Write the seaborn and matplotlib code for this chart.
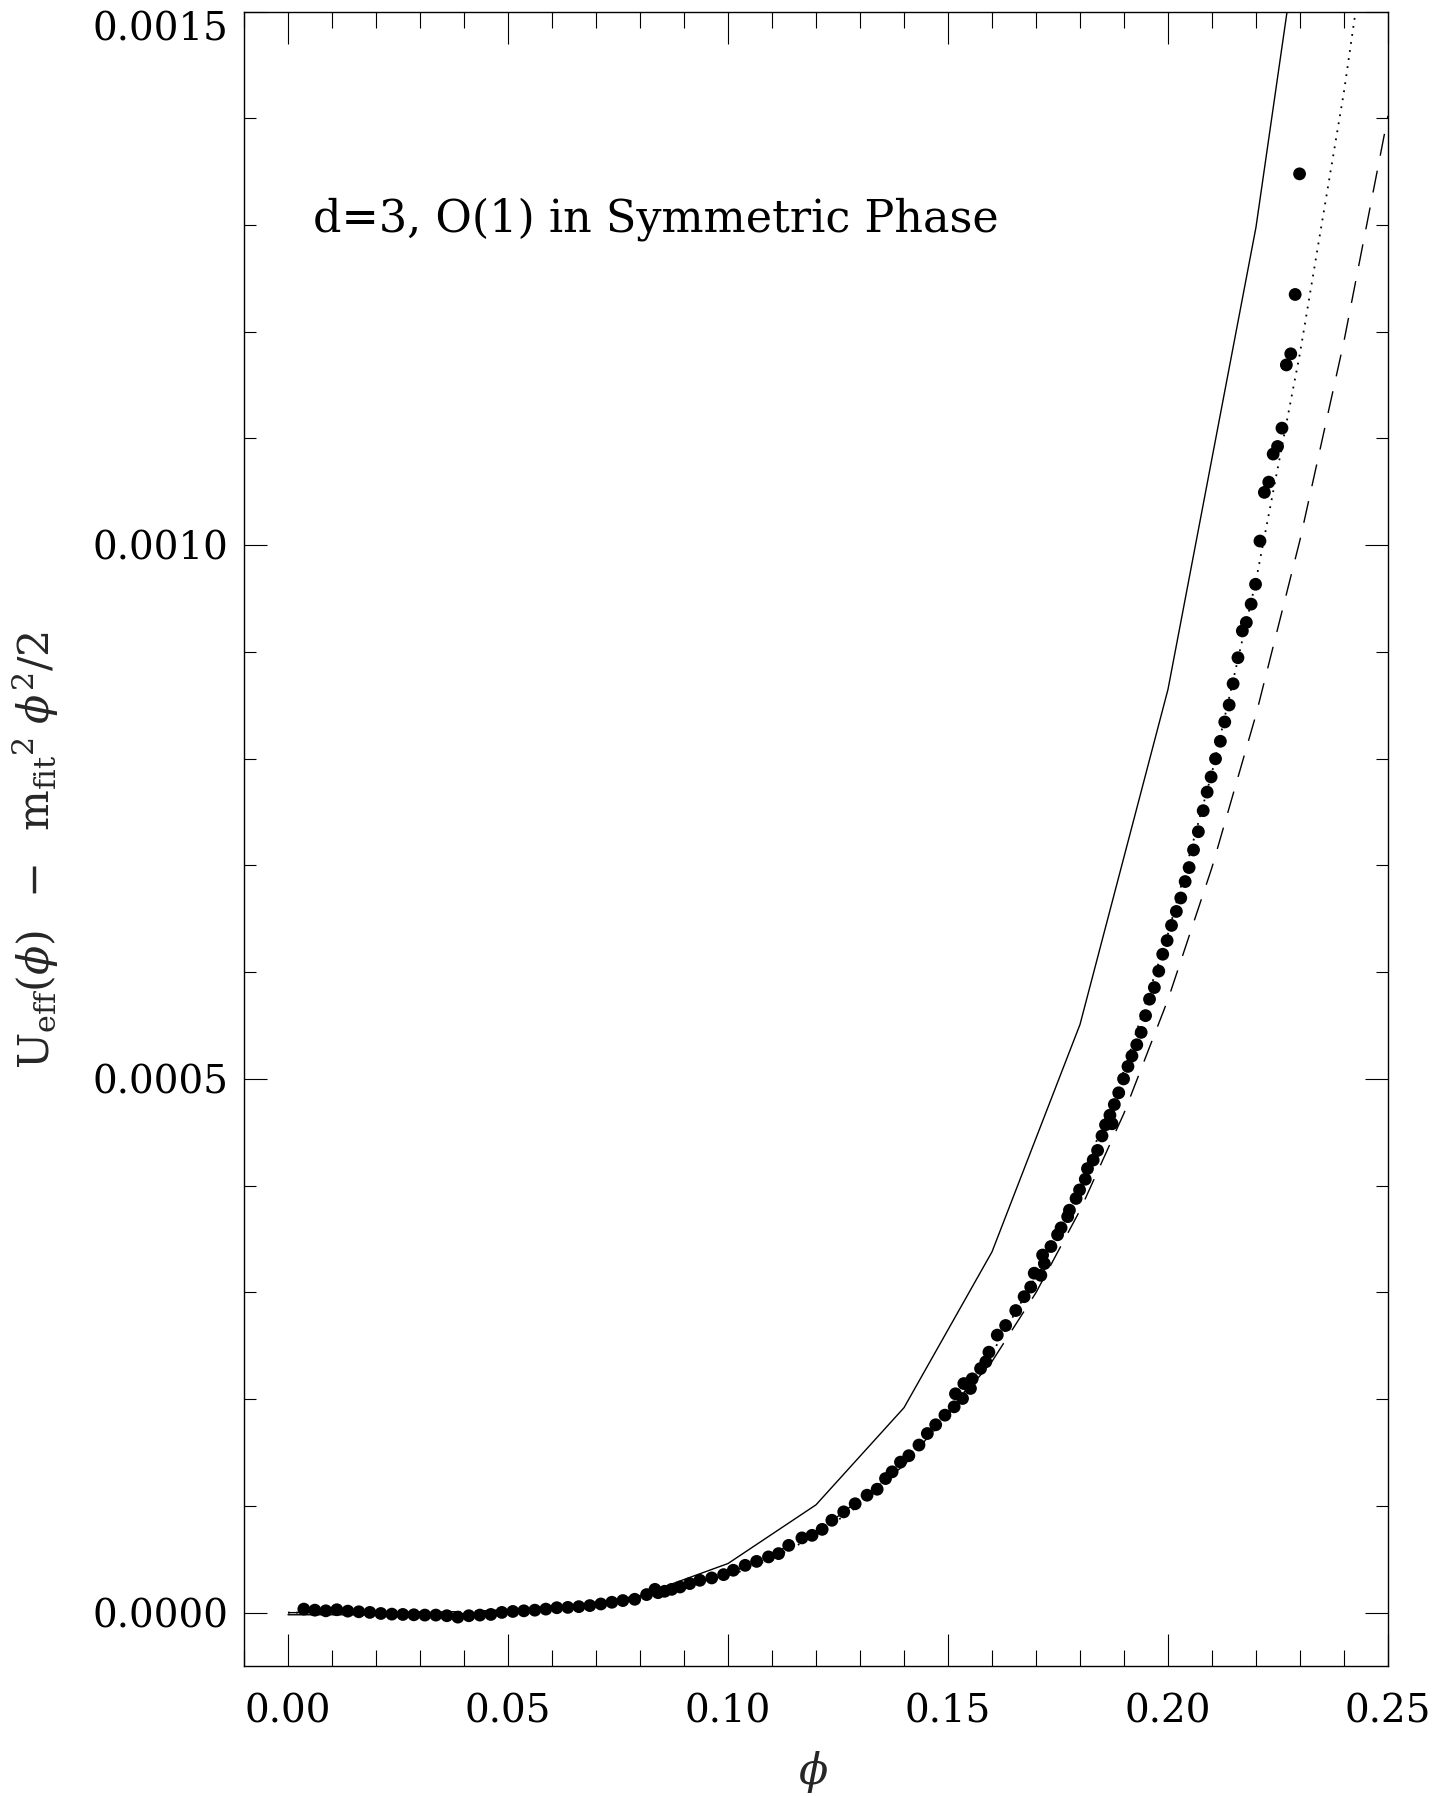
import numpy as np
import pandas as pd
import matplotlib
matplotlib.use("Agg")
import matplotlib.pyplot as plt
import seaborn as sns

# ---------------- data (y values in units of 1e-6) ----------------
dots_x = [0.0036, 0.0061, 0.0086, 0.0111, 0.0136, 0.0161, 0.0186, 0.0211, 0.0236, 0.0261,
          0.0286, 0.0311, 0.0336, 0.0361, 0.0386, 0.0411, 0.0436, 0.0461, 0.0486, 0.0511,
          0.0536, 0.0561, 0.0586, 0.0611, 0.0636, 0.0661, 0.0686, 0.0711, 0.0736, 0.0761,
          0.0788, 0.0815, 0.0834, 0.0841, 0.0856, 0.0872, 0.0891, 0.0913, 0.0936, 0.0963,
          0.0990, 0.1012, 0.1039, 0.1065, 0.1092, 0.1115, 0.1138, 0.1168, 0.1191, 0.1214,
          0.1236, 0.1263, 0.1289, 0.1316, 0.1339, 0.1358, 0.1373, 0.1392, 0.1411, 0.1434,
          0.1453, 0.1472, 0.1493, 0.1514, 0.1517, 0.1533, 0.1536, 0.1551, 0.1555, 0.1574,
          0.1586, 0.1593, 0.1612, 0.1631, 0.1654, 0.1673, 0.1688, 0.1696, 0.1711, 0.1715,
          0.1719, 0.1734, 0.1749, 0.1757, 0.1772, 0.1776, 0.1791, 0.1799, 0.1812, 0.1817,
          0.1830, 0.1840, 0.1850, 0.1858, 0.1868, 0.1873, 0.1878, 0.1888, 0.1899, 0.1909,
          0.1918, 0.1929, 0.1939, 0.1949, 0.1958, 0.1969, 0.1979, 0.1988, 0.1998, 0.2008,
          0.2019, 0.2029, 0.2039, 0.2048, 0.2058, 0.2069, 0.2080, 0.2089, 0.2098, 0.2108,
          0.2119, 0.2129, 0.2139, 0.2148, 0.2159, 0.2169, 0.2178, 0.2189, 0.2199, 0.2209,
          0.2219, 0.2229, 0.2239, 0.2249, 0.2259, 0.2269, 0.2279, 0.2289, 0.2299]
dots_y = [3.3, 2.3, 1.7, 2.7, 1.4, 0.8, 0.2, -0.8, -1.4, -1.7,
          -2.0, -2.3, -2.3, -2.9, -4.2, -2.9, -2.3, -1.7, 0.2, 1.1,
          1.7, 2.3, 3.3, 4.6, 4.9, 5.6, 6.6, 8.1, 9.7, 11.3,
          12.5, 16.9, 21.8, 18.7, 20.0, 21.8, 24.0, 27.2, 30.3, 32.5,
          35.6, 39.7, 44.3, 48.0, 52.2, 55.3, 63.0, 70.0, 72.4, 78.0,
          86.5, 94.4, 102.0, 110.0, 115.6, 125.6, 131.9, 141.0, 147.0, 157.0,
          167.8, 176.0, 185.0, 192.8, 205.0, 200.6, 214.6, 210.0, 219.0, 228.7,
          235.0, 244.0, 260.0, 269.0, 283.0, 296.0, 305.0, 318.0, 316.0, 335.0,
          327.0, 343.0, 354.0, 360.5, 371.0, 377.0, 388.0, 396.0, 406.0, 416.0,
          424.0, 433.0, 446.6, 457.0, 466.0, 458.0, 476.0, 487.0, 500.0, 511.7,
          521.5, 532.0, 543.6, 559.3, 574.7, 585.6, 601.0, 616.8, 629.6, 643.8,
          656.9, 669.5, 684.9, 698.0, 714.5, 731.6, 751.3, 768.7, 782.9, 799.9,
          816.3, 834.4, 850.3, 870.2, 894.6, 919.7, 927.6, 944.8, 963.4, 1003.9,
          1049.5, 1059.1, 1085.4, 1092.5, 1109.7, 1168.9, 1179.3, 1234.9, 1347.9]

solid_x = [0.00, 0.02, 0.04, 0.06, 0.08, 0.10, 0.12, 0.14, 0.16, 0.18, 0.20, 0.22, 0.24]
solid_y = [-2.0, -2.0, -1.0, 3.0, 16.0, 46.0, 101.0, 192.0, 338.0, 551.0, 865.0, 1298.0, 1870.0]

dotted_x = [0.00, 0.02, 0.04, 0.06, 0.08, 0.10, 0.11, 0.12, 0.13, 0.14, 0.15, 0.16, 0.17,
            0.18, 0.19, 0.20, 0.21, 0.22, 0.23, 0.24, 0.25]
dotted_y = [0.0, 0.05, 0.8, 4.3, 13.8, 34.0, 50.5, 72.5, 101.0, 138.0, 185.0, 243.0, 315.0,
            402.0, 508.0, 636.0, 787.0, 967.0, 1180.0, 1425.0, 1710.0]

dashed_x = [0.00, 0.02, 0.04, 0.06, 0.08, 0.10, 0.12, 0.14, 0.16, 0.17, 0.18, 0.19, 0.20,
            0.21, 0.22, 0.23, 0.24, 0.25]
dashed_y = [0.0, 0.06, 0.9, 4.7, 14.7, 35.9, 74.4, 137.9, 235.3, 299.8, 376.9, 467.9, 574.4,
            698.2, 841.2, 1004.9, 1191.2, 1402.3]

x_ticks = [0.00, 0.05, 0.10, 0.15, 0.20, 0.25]
x_ticklabels = ["0.00", "0.05", "0.10", "0.15", "0.20", "0.25"]
y_ticks = [0.0, 0.0005, 0.0010, 0.0015]
y_ticklabels = ["0.0000", "0.0005", "0.0010", "0.0015"]

annotation = "d=3, O(1) in Symmetric Phase"
xlabel = r"$\phi$"
ylabel = (r"$\mathrm{U}_{\mathrm{eff}}(\phi)\;\;-\;\;\mathrm{m}_{\mathrm{fit}}{}^{2}"
          r"\;\phi^{2}/2$")

SCALE = 1e-6

# ---------------- style ----------------
sns.set_theme(style="ticks")
plt.rcParams["font.family"] = ["DejaVu Serif"]
plt.rcParams["mathtext.fontset"] = "dejavuserif"

fig = plt.figure(figsize=(14.37, 17.96), dpi=100)
W, H = 1437, 1796
ax = fig.add_axes([244 / W, 1 - 1666 / H, (1388 - 244) / W, (1666 - 11.5) / H])

df_dots = pd.DataFrame({"x": dots_x, "y": np.array(dots_y) * SCALE})
df_solid = pd.DataFrame({"x": solid_x, "y": np.array(solid_y) * SCALE})
df_dotted = pd.DataFrame({"x": dotted_x, "y": np.array(dotted_y) * SCALE})
df_dashed = pd.DataFrame({"x": dashed_x, "y": np.array(dashed_y) * SCALE})

sns.lineplot(data=df_solid, x="x", y="y", ax=ax, color="black", lw=1.0,
             estimator=None, sort=False)
sns.lineplot(data=df_dotted, x="x", y="y", ax=ax, color="black", lw=1.3,
             linestyle=(0, (1, 3.5)), estimator=None, sort=False)
sns.lineplot(data=df_dashed, x="x", y="y", ax=ax, color="black", lw=1.0,
             linestyle=(0, (16, 11)), estimator=None, sort=False)
sns.scatterplot(data=df_dots, x="x", y="y", ax=ax, color="black", s=85,
                edgecolor="none", linewidth=0, zorder=5)

ax.set_xlim(-0.01, 0.25)
ax.set_ylim(-0.00005, 0.0015)

ax.set_xticks(x_ticks)
ax.set_xticklabels(x_ticklabels)
ax.set_xticks(np.arange(-0.01, 0.2501, 0.01), minor=True)
ax.set_yticks(y_ticks)
ax.set_yticklabels(y_ticklabels)
ax.set_yticks(np.arange(0.0, 0.00151, 0.0001), minor=True)

for s in ax.spines.values():
    s.set_visible(True)
    s.set_linewidth(1.0)
    s.set_color("black")

ax.tick_params(which="both", direction="in", top=True, right=True,
               colors="black", width=0.8)
ax.tick_params(axis="x", which="major", length=23, pad=20, labelsize=28)
ax.tick_params(axis="x", which="minor", length=11.5)
ax.tick_params(axis="y", which="major", length=16.5, pad=11, labelsize=28)
ax.tick_params(axis="y", which="minor", length=8.3)

# top y tick label hangs below the tick, as in the reference
ax.get_yticklabels()[-1].set_verticalalignment("top")

ax.set_xlabel(xlabel, fontsize=31)
ax.xaxis.set_label_coords(0.498, -0.050)
ax.set_ylabel(ylabel, fontsize=31)
ax.yaxis.set_label_coords(-0.160, 0.493)

ax.text(0.06, 0.8776, annotation, transform=ax.transAxes, fontsize=32,
        ha="left", va="center_baseline", color="black")

fig.savefig("out.png", dpi=100, facecolor="white")
